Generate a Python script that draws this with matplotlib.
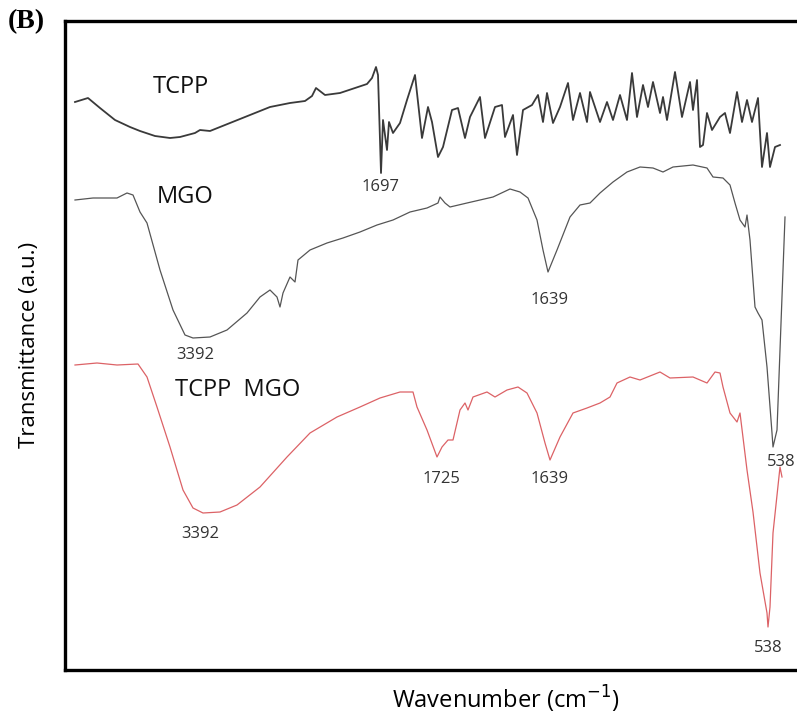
import numpy as np
import matplotlib
matplotlib.use('Agg')
import matplotlib.pyplot as plt

# FTIR spectra (x = horizontal position, y = vertical position, both in figure pixels)
tcpp_x = [75, 88, 100, 115, 130, 140, 155, 170, 180, 195, 200, 210, 230, 250, 270, 290, 305, 312, 316, 325,
          340, 355, 367, 372, 376, 378, 381, 383, 387, 389, 393, 400, 407, 415, 422, 428, 432, 438, 443, 452,
          458, 465, 470, 480, 485, 495, 502, 505, 513, 517, 523, 532, 538, 543, 547, 553, 560, 568, 573, 580,
          587, 590, 600, 607, 613, 620, 627, 632, 637, 643, 648, 653, 660, 663, 667, 675, 682, 690, 693, 697,
          700, 703, 707, 712, 720, 725, 730, 737, 742, 747, 752, 758, 762, 767, 770, 775, 780]
tcpp_y = [102, 98, 108, 120, 127, 131, 136, 138, 137, 133, 130, 131, 123, 115, 107, 103, 101, 96, 88, 95,
          93, 88, 84, 78, 67, 75, 173, 120, 150, 122, 133, 123, 100, 75, 138, 107, 122, 157, 147, 110,
          108, 138, 117, 97, 138, 107, 105, 137, 115, 155, 110, 105, 95, 122, 93, 123, 107, 83, 120, 93,
          122, 92, 122, 102, 120, 95, 120, 73, 117, 85, 107, 82, 113, 97, 120, 72, 117, 82, 110, 80,
          147, 145, 113, 130, 117, 113, 133, 92, 122, 100, 122, 98, 167, 133, 167, 147, 145]

mgo_x = [75, 93, 117, 127, 133, 140, 147, 160, 173, 185, 193, 210, 227, 247, 260, 270, 277, 280, 283, 290,
         295, 298, 310, 327, 343, 360, 377, 393, 410, 427, 438, 440, 445, 450, 467, 493, 510, 520, 528, 537,
         543, 548, 557, 570, 580, 590, 600, 613, 627, 640, 653, 663, 673, 693, 707, 713, 723, 730, 735, 740,
         745, 747, 750, 755, 758, 762, 767, 772, 773, 777, 780, 785]
mgo_y = [200, 198, 198, 193, 195, 212, 223, 270, 310, 335, 338, 337, 330, 313, 297, 290, 297, 307, 293, 277,
         282, 260, 250, 243, 238, 232, 225, 220, 212, 208, 203, 197, 203, 207, 203, 197, 189, 192, 198, 220,
         250, 272, 250, 217, 205, 203, 193, 182, 172, 167, 168, 172, 167, 165, 168, 177, 178, 185, 203, 220,
         227, 215, 240, 307, 313, 320, 367, 433, 447, 430, 350, 217]

hyb_x = [75, 97, 117, 138, 147, 157, 170, 183, 193, 203, 220, 237, 260, 287, 310, 337, 360, 380, 400, 413,
         417, 427, 437, 442, 448, 453, 460, 465, 468, 473, 487, 495, 507, 518, 527, 537, 545, 550, 560, 573,
         587, 600, 610, 617, 630, 640, 660, 670, 693, 707, 715, 720, 723, 730, 737, 740, 747, 753, 760, 767,
         768, 770, 773, 780, 782]
hyb_y = [365, 363, 365, 364, 377, 407, 447, 490, 508, 513, 512, 505, 487, 457, 433, 417, 407, 398, 392, 392,
         407, 430, 457, 447, 440, 440, 410, 403, 410, 397, 392, 397, 390, 387, 393, 413, 443, 460, 437, 413,
         408, 403, 397, 383, 377, 380, 372, 378, 377, 383, 372, 373, 387, 413, 422, 413, 470, 512, 573, 613,
         627, 607, 533, 467, 477]

# sample names and band labels
names = ['TCPP', 'MGO', 'TCPP  MGO']
name_pos = [(153, 87), (157, 197), (175, 390)]
bands = ['1697', '3392', '1639', '538', '3392', '1725', '1639', '538']
band_pos = [(381, 187), (195, 355), (550, 300), (781, 462), (200, 534), (441, 479), (550, 479), (768, 648)]

W, H = 797, 716
fig = plt.figure(figsize=(W / 100, H / 100), dpi=100)
ax = fig.add_axes([65 / W, (H - 670) / H, (W - 65) / W, (670 - 21) / H])
ax.set_xlim(65, W)
ax.set_ylim(670, 21)

ax.plot(tcpp_x, tcpp_y, color='#3a3a3a', lw=1.3)
ax.plot(mgo_x, mgo_y, color='#555555', lw=0.9)
ax.plot(hyb_x, hyb_y, color='#dc6266', lw=0.9)

for name, (x, y) in zip(names, name_pos):
    ax.text(x, y, name, fontsize=17, family='Open Sans', ha='left', va='center', color='#111111')
for b, (x, y) in zip(bands, band_pos):
    ax.text(x, y, b, fontsize=12, family='Open Sans', ha='center', va='center', color='#333333')

ax.set_xticks([])
ax.set_yticks([])
for s in ['left', 'top', 'bottom']:
    ax.spines[s].set_linewidth(2.4)
ax.spines['right'].set_visible(False)

fig.text(30 / W, 1 - 345 / H, 'Transmittance (a.u.)', rotation=90, fontsize=16, family='Open Sans',
         ha='center', va='center')
fig.text(506 / W, 1 - 699 / H, r'Wavenumber (cm$^{-1}$)', fontsize=17, family='Open Sans',
         ha='center', va='center')
fig.text(26 / W, 1 - 22 / H, '(B)', fontsize=20, family='Liberation Serif', fontweight='bold',
         ha='center', va='center')

fig.savefig('out.png', dpi=100)
